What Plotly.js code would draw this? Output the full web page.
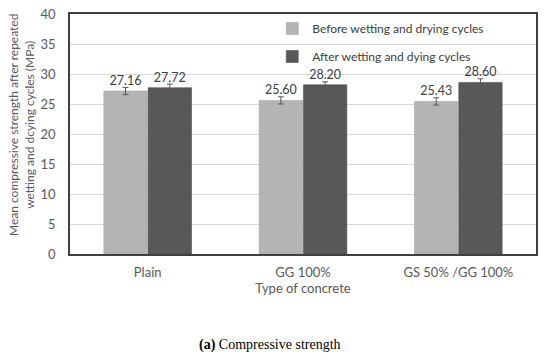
<!DOCTYPE html>
<html>
<head>
<meta charset="utf-8">
<script src="https://cdn.plot.ly/plotly-3.0.1.min.js"></script>
<style>html,body{margin:0;padding:0;background:#fff;}#chart{width:550px;height:361px;}</style>
</head>
<body>
<div id="chart"></div>
<script>
const categories = ["Plain", "GG 100%", "GS 50% /GG 100%"];
const beforeValues = [27.16, 25.60, 25.43];
const afterValues = [27.72, 28.20, 28.60];
const beforeErrors = [0.6, 0.6, 0.6];
const afterErrors = [0.6, 0.5, 0.6];
const beforeLabels = ["27.16", "25.60", "25.43"];
const afterLabels = ["27.72", "28.20", "28.60"];
const seriesNames = ["Before wetting and drying cycles", "After wetting and dying cycles"];
const yTitle = "Mean compressive strength after repeated<br>wetting and dcying cycles (MPa)";

const fontFam = "Lato, 'Open Sans', sans-serif";

const traces = [
  {
    type: "bar", x: categories, y: beforeValues, name: seriesNames[0],
    marker: {color: "#b4b4b4", line: {color: "#9a9a9a", width: 0.5}},
    error_y: {type: "data", array: beforeErrors, visible: true, color: "#595959", thickness: 1, width: 3},
    text: beforeLabels, textposition: "outside", cliponaxis: false,
    textfont: {family: fontFam, size: 12.5, color: "#404040"},
    legendgroup: "a"
  },
  {
    type: "bar", x: categories, y: afterValues, name: seriesNames[1],
    marker: {color: "#585858", line: {color: "#404040", width: 0.5}},
    error_y: {type: "data", array: afterErrors, visible: true, color: "#595959", thickness: 1, width: 3},
    text: afterLabels, textposition: "outside", cliponaxis: false,
    textfont: {family: fontFam, size: 12.5, color: "#404040"},
    legendgroup: "b"
  }
];

const layout = {
  width: 550, height: 361,
  margin: {l: 70, r: 14, t: 14, b: 107},
  paper_bgcolor: "#fff", plot_bgcolor: "#fff",
  barmode: "group", bargap: 0.43, bargroupgap: 0.02,
  font: {family: fontFam, color: "#595959"},
  showlegend: true,
  legend: {
    x: 0.434, y: 1.0, xanchor: "left", yanchor: "top",
    bgcolor: "rgba(0,0,0,0)", font: {size: 12, color: "#404040", family: fontFam},
    traceorder: "grouped", tracegroupgap: 9
  },
  xaxis: {
    showgrid: false, showline: true, linecolor: "#404040", linewidth: 1.5, mirror: true,
    ticks: "", tickfont: {size: 13, color: "#595959"}, ticklabelstandoff: 6,
    title: {text: "Type of concrete", font: {size: 13, color: "#595959"}, standoff: 2}
  },
  yaxis: {
    range: [0, 40], dtick: 5, showgrid: true, gridcolor: "#d9d9d9", gridwidth: 1,
    showline: true, linecolor: "#404040", linewidth: 1.5, mirror: true,
    ticks: "", tickfont: {size: 13, color: "#595959"}, zeroline: false, ticklabelstandoff: 10
  },
  annotations: [
    {
      xref: "paper", yref: "paper", x: -0.105, y: 0.5375, xanchor: "center", yanchor: "middle",
      showarrow: false, textangle: -90, text: yTitle,
      font: {family: fontFam, size: 12, color: "#595959"}
    },
    {
      xref: "paper", yref: "paper", x: 0.429, y: -0.379, xanchor: "center", yanchor: "middle",
      showarrow: false, text: "<b>(a)</b> Compressive strength",
      font: {family: "'Liberation Serif', 'DejaVu Serif', serif", size: 14, color: "#000"}
    }
  ]
};

Plotly.newPlot("chart", traces, layout, {displayModeBar: false, responsive: false});
</script>
</body>
</html>
